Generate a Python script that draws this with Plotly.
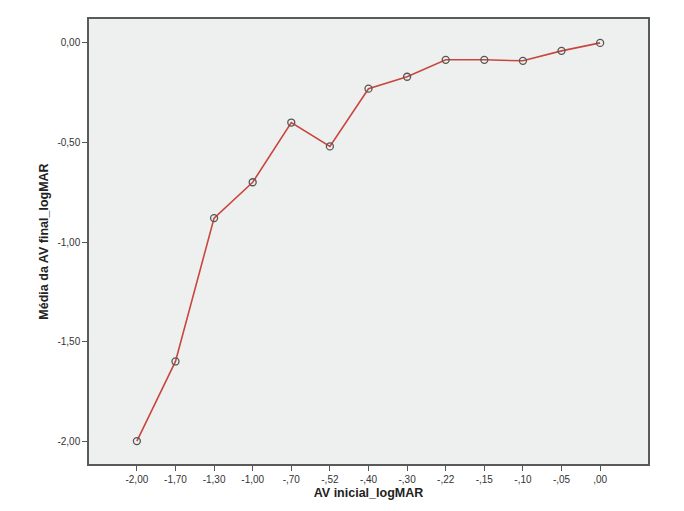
import plotly.graph_objects as go

categories = ["-2,00", "-1,70", "-1,30", "-1,00", "-,70", "-,52", "-,40", "-,30", "-,22", "-,15", "-,10", "-,05", ",00"]
means = [-2.00, -1.60, -0.88, -0.70, -0.40, -0.52, -0.23, -0.17, -0.085, -0.085, -0.09, -0.04, 0.00]
ytick_vals = [0.0, -0.5, -1.0, -1.5, -2.0]
ytick_text = ["0,00", "-0,50", "-1,00", "-1,50", "-2,00"]

idx = list(range(len(categories)))

fig = go.Figure()
fig.add_trace(go.Scatter(
    x=idx, y=means, mode="lines+markers",
    line=dict(color="#c9463d", width=1.6),
    marker=dict(symbol="circle-open", size=7, color="#555555", line=dict(width=1.3)),
    showlegend=False,
))

fig.update_layout(
    width=676, height=503,
    margin=dict(l=81, r=36, t=11, b=47),
    paper_bgcolor="white",
    plot_bgcolor="#eef0f0",
    font=dict(family="Liberation Sans, Arial, sans-serif", color="#333333"),
    xaxis=dict(
        range=[-1.24, 13.24],
        tickmode="array", tickvals=idx, ticktext=categories,
        ticks="outside", ticklen=5, tickcolor="#555555", tickwidth=1,
        tickfont=dict(size=10, color="#333333"),
        showgrid=False, zeroline=False, automargin=False,
        showline=True, linecolor="#5a5a5a", linewidth=1.5, mirror=True,
        title=dict(text="<b>AV inicial_logMAR</b>", font=dict(size=12.5, color="#222222"), standoff=4),
    ),
    yaxis=dict(
        range=[-2.115, 0.12],
        tickmode="array", tickvals=ytick_vals, ticktext=ytick_text,
        ticks="outside", ticklen=5, tickcolor="#555555", tickwidth=1,
        tickfont=dict(size=10, color="#333333"),
        showgrid=False, zeroline=False, automargin=False,
        showline=True, linecolor="#5a5a5a", linewidth=1.5, mirror=True,
        title=dict(text="<b>Média da AV final_logMAR</b>", font=dict(size=12.5, color="#222222"), standoff=6),
    ),
)

fig.write_html("out.html")
